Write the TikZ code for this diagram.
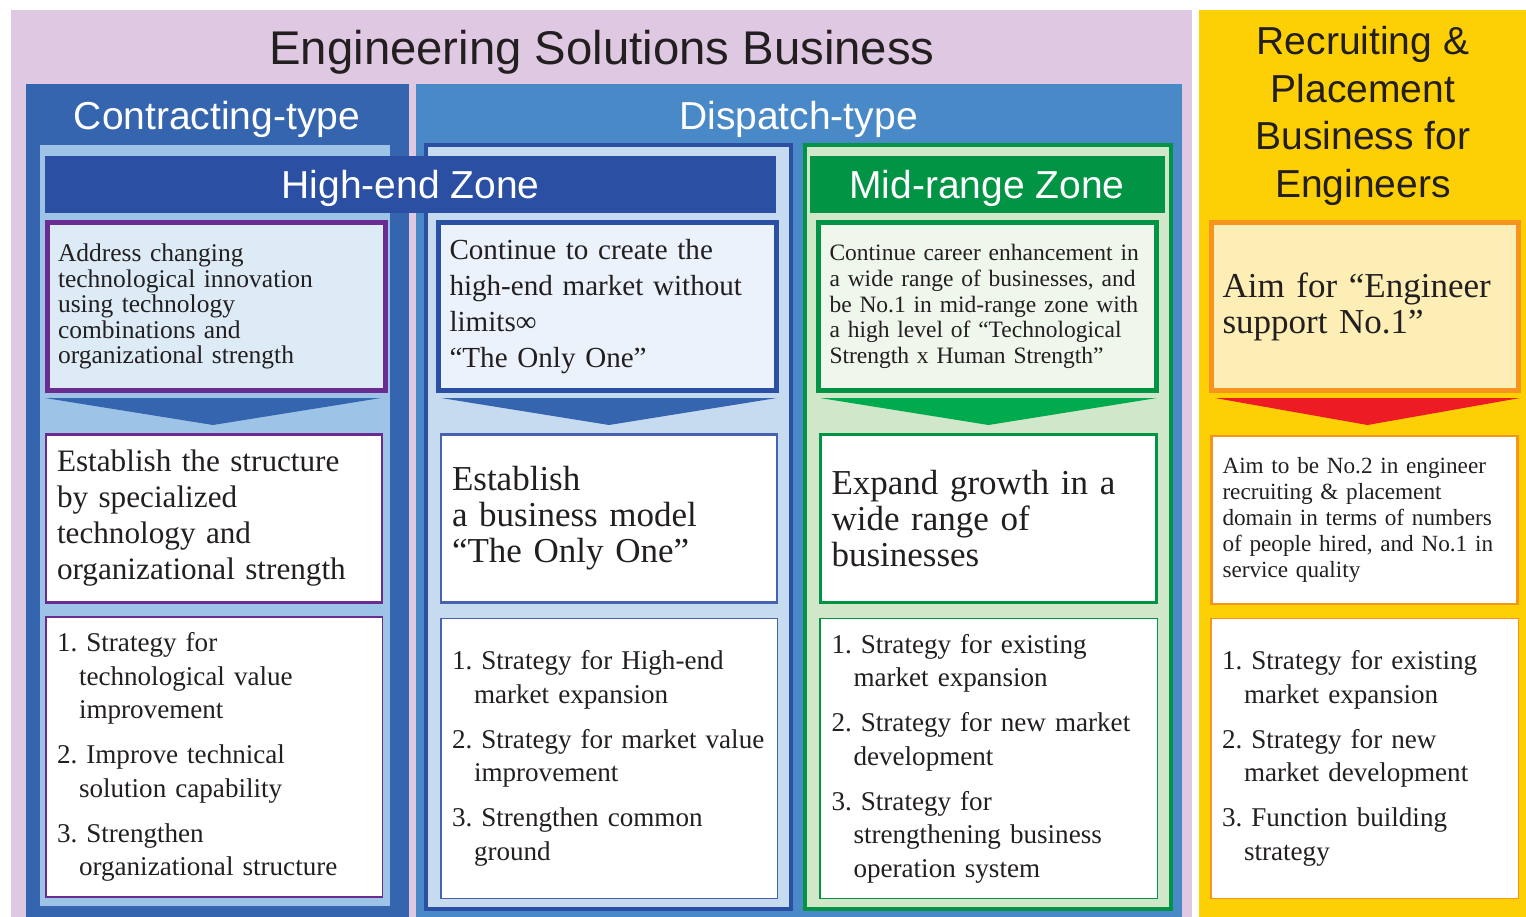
\documentclass[tikz,border=0pt]{standalone}
\usepackage{fontspec}
\setmainfont{Liberation Serif}
\setsansfont{Liberation Sans}
\usetikzlibrary{positioning,calc}
\frenchspacing
\definecolor{lavender}{HTML}{DEC8E2}
\definecolor{contrblue}{HTML}{3665B0}
\definecolor{dispblue}{HTML}{4A89C8}
\definecolor{skyblue}{HTML}{9DC3E6}
\definecolor{paleblue}{HTML}{C6DAF0}
\definecolor{navy}{HTML}{2B4FA2}
\definecolor{midblue}{HTML}{4763AF}
\definecolor{plum}{HTML}{6A2C91}
\definecolor{ice}{HTML}{DDEBF7}
\definecolor{frost}{HTML}{EBF2FB}
\definecolor{leaf}{HTML}{009444}
\definecolor{mint}{HTML}{D1E7C9}
\definecolor{palemint}{HTML}{EFF6EC}
\definecolor{chevgreen}{HTML}{00AB4E}
\definecolor{sun}{HTML}{FDD005}
\definecolor{amber}{HTML}{F7941D}
\definecolor{cream}{HTML}{FCEEB5}
\definecolor{signal}{HTML}{ED1C24}
\definecolor{ink}{HTML}{231F20}
\newcommand{\indentline}{\hspace*{22pt}}
\tikzset{
    heading/.style={
        inner sep=0pt,
        anchor=base,
        font=\sffamily\fontsize{39}{47.7}\selectfont,
    },
    zonebar/.style={
        rectangle,
        inner sep=0pt,
        minimum height=57pt,
    },
    goal/.style={
        rectangle,
        line width=5pt,
        inner xsep=11pt,
        inner ysep=0pt,
        minimum height=168pt,
        align=left,
        text=ink,
    },
    plan/.style={
        rectangle,
        line width=2.5pt,
        fill=white,
        inner xsep=11pt,
        inner ysep=0pt,
        minimum height=168pt,
        align=left,
        text=ink,
    },
    steps/.style={
        rectangle,
        line width=1.5pt,
        fill=white,
        inner xsep=11pt,
        inner ysep=0pt,
        minimum height=280pt,
        align=left,
        text=ink,
        font=\fontsize{27.1}{33.5}\selectfont,
    },
}

\begin{document}
\begin{tikzpicture}[x=1pt,y=-1pt]
    \useasboundingbox (0,0) rectangle (1526,917);

    % backgrounds
    \fill[lavender] (11,10) rectangle (1192,917);
    \fill[sun] (1199,10) rectangle (1526,917);
    \fill[contrblue] (26,84) rectangle (409,917);
    \fill[dispblue] (416,84) rectangle (1182,917);
    \fill[skyblue] (40,145) rectangle (390,906);
    \draw[navy,line width=4pt,fill=paleblue] (426,145) rectangle (791,909);
    \draw[leaf,line width=4pt,fill=mint] (805,145) rectangle (1171,909);

    % titles
    \node[heading,font=\sffamily\fontsize{47.3}{56}\selectfont,text=ink] (esb) at (602,65) {Engineering Solutions Business};
    \node[heading,text=white] (contracting) at (217,130) {Contracting-type};
    \node[heading,text=white] (dispatch) at (798.5,130) {Dispatch-type};
    \node[heading,anchor=center,align=center,text=ink] (recruiting) at (1363,116)
        {Recruiting \&\\Placement\\Business for\\Engineers};

    % zone bars
    \node[zonebar,fill=navy,minimum width=731pt] (highbar) at (410.5,184.5) {};
    \node[heading,text=white] (highzone) at (410.5,199) {High-end Zone};
    \node[zonebar,fill=leaf,minimum width=355pt] (midbar) at (987.5,184.5) {};
    \node[heading,text=white] (midzone) at (987,199) {Mid-range Zone};

    % goals
    \node[goal,draw=plum,fill=ice,minimum width=337pt,text width=316pt,
          font=\fontsize{25.5}{25.5}\selectfont] (goalA) at (216,306.5)
        {Address changing\\technological innovation\\using technology\\combinations and\\organizational strength};
    \node[goal,draw=navy,fill=frost,minimum width=338pt,text width=316pt,
          font=\fontsize{29.1}{36}\selectfont] (goalB) at (607.5,306.5)
        {Continue to create the\\high-end market without\\limits∞\\“The Only One”};
    \node[goal,draw=leaf,fill=palemint,minimum width=338pt,text width=316pt,
          font=\fontsize{23.5}{25.7}\selectfont] (goalC) at (987.5,306.5)
        {Continue career enhancement in\\a wide range of businesses, and\\be No.1 in mid-range zone with\\a high level of “Technological\\Strength x Human Strength”};
    \node[goal,draw=amber,fill=cream,minimum width=307pt,text width=285pt,
          font=\fontsize{35}{36}\selectfont] (goalD) at (1365,306.5)
        {Aim for “Engineer\\support No.1”};

    % chevrons
    \fill[contrblue] (45,398) -- (381,398) -- (213,425) -- cycle;
    \fill[contrblue] (441,398) -- (777,398) -- (609,425) -- cycle;
    \fill[chevgreen] (820,398) -- (1157,398) -- (988.5,425) -- cycle;
    \fill[signal] (1215,398) -- (1520,398) -- (1367.5,425) -- cycle;

    % plans
    \node[plan,draw=plum,minimum width=335pt,text width=314pt,
          font=\fontsize{31.2}{36}\selectfont] (planA) at (214,518.5)
        {Establish the structure\\by specialized\\technology and\\organizational strength};
    \node[plan,draw=midblue,minimum width=335pt,text width=314pt,
          font=\fontsize{35}{36}\selectfont] (planB) at (609,518.5)
        {Establish\\a business model\\“The Only One”};
    \node[plan,draw=leaf,minimum width=336pt,text width=314pt,
          font=\fontsize{35}{36}\selectfont] (planC) at (988.5,518.5)
        {Expand growth in a\\wide range of\\businesses};
    \node[plan,draw=amber,minimum width=306pt,text width=284pt,
          font=\fontsize{23.2}{26}\selectfont] (planD) at (1364.5,520)
        {Aim to be No.2 in engineer\\recruiting \& placement\\domain in terms of numbers\\of people hired, and No.1 in\\service quality};

    % strategies
    \node[steps,draw=plum,minimum width=336.5pt,text width=314pt] (stepsA) at (214,757)
        {1. Strategy for\\\indentline technological value\\\indentline improvement\\[11.5pt]
         2. Improve technical\\\indentline solution capability\\[11.5pt]
         3. Strengthen\\\indentline organizational structure};
    \node[steps,draw=midblue,minimum width=336.5pt,text width=314pt] (stepsB) at (609,758.5)
        {1. Strategy for High-end\\\indentline market expansion\\[11.5pt]
         \mbox{2. Strategy for market value}\\\indentline improvement\\[11.5pt]
         3. Strengthen common\\\indentline ground};
    \node[steps,draw=leaf,minimum width=337.5pt,text width=314pt] (stepsC) at (988.5,758.5)
        {1. Strategy for existing\\\indentline market expansion\\[11.5pt]
         2. Strategy for new market\\\indentline development\\[11.5pt]
         3. Strategy for\\\indentline strengthening business\\\indentline operation system};
    \node[steps,draw=amber,minimum width=307.5pt,text width=285pt] (stepsD) at (1364.5,758.5)
        {1. Strategy for existing\\\indentline market expansion\\[11.5pt]
         2. Strategy for new\\\indentline market development\\[11.5pt]
         3. Function building\\\indentline strategy};
\end{tikzpicture}
\end{document}
